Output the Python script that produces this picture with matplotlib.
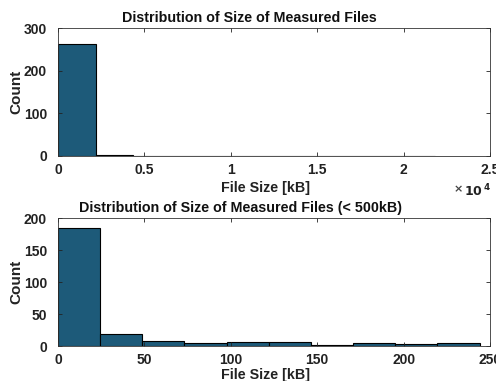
import numpy as np
import matplotlib
matplotlib.use("Agg")
import matplotlib.pyplot as plt

plt.rcParams['font.family'] = ['Liberation Sans', 'DejaVu Sans']
plt.rcParams['font.weight'] = 'bold'

# All files: bin edges (kB) and counts
all_edges = np.linspace(0, 21800, 11)
all_counts = [263, 2, 0, 0, 0, 0, 0, 0, 0, 1]

# Files under 500 kB: bin edges (kB) and counts
small_edges = np.linspace(0, 244, 11)
small_counts = [185, 19, 8, 5, 7, 6, 2, 4, 3, 4]

top_xticks = [0, 5000, 10000, 15000, 20000, 25000]
top_xticklabels = ['0', '0.5', '1', '1.5', '2', '2.5']
top_yticks = [0, 100, 200, 300]
bot_xticks = [0, 50, 100, 150, 200, 250]
bot_yticks = [0, 50, 100, 150, 200]

bar_color = '#1d5a79'

fig = plt.figure(figsize=(4.96, 3.81), dpi=100)
ax1 = fig.add_axes([58/496, 1-156/381, 432/496, 128/381])
ax2 = fig.add_axes([58/496, 1-346/381, 432/496, 128/381])


def style(ax):
    ax.tick_params(direction='in', top=True, right=True, length=3,
                   width=0.6, labelsize=10, colors='#222222')
    ax.tick_params(axis='y', pad=8)
    ax.tick_params(axis='x', pad=5)
    for s in ax.spines.values():
        s.set_linewidth(0.6)
        s.set_color('#333333')
    for lab in ax.get_xticklabels() + ax.get_yticklabels():
        lab.set_fontweight('bold')


ax1.bar(all_edges[:-1], all_counts, width=np.diff(all_edges), align='edge',
        color=bar_color, edgecolor='black', linewidth=0.8)
ax1.set_xlim(0, 25000)
ax1.set_ylim(0, 300)
ax1.set_xticks(top_xticks)
ax1.set_xticklabels(top_xticklabels)
ax1.set_yticks(top_yticks)
ax1.set_title('Distribution of Size of Measured Files', fontsize=10.3,
              fontweight='bold', pad=4, color='#111111', x=0.444)
ax1.set_xlabel('File Size [kB]', fontsize=10.3, fontweight='bold', labelpad=3,
               color='#222222', x=0.481)
ax1.set_ylabel('Count', fontsize=11, fontweight='bold', labelpad=0,
               color='#222222')
ax1.text(0.915, -0.215, r'$\times$', transform=ax1.transAxes,
         ha='left', va='top', fontsize=8, color='#444444')
ax1.text(0.94, -0.205, r'$\mathbf{10^{\,4}}$', transform=ax1.transAxes,
         ha='left', va='top', fontsize=9, color='#222222')
style(ax1)

ax2.bar(small_edges[:-1], small_counts, width=np.diff(small_edges), align='edge',
        color=bar_color, edgecolor='black', linewidth=0.8)
ax2.set_xlim(0, 250)
ax2.set_ylim(0, 200)
ax2.set_xticks(bot_xticks)
ax2.set_yticks(bot_yticks)
ax2.set_title('Distribution of Size of Measured Files (< 500kB)', fontsize=10.3,
              fontweight='bold', pad=4, color='#111111', x=0.422)
ax2.set_xlabel('File Size [kB]', fontsize=10.3, fontweight='bold', labelpad=1,
               color='#222222', x=0.481)
ax2.set_ylabel('Count', fontsize=11, fontweight='bold', labelpad=0,
               color='#222222')
style(ax2)

fig.savefig('out.png', dpi=100)
